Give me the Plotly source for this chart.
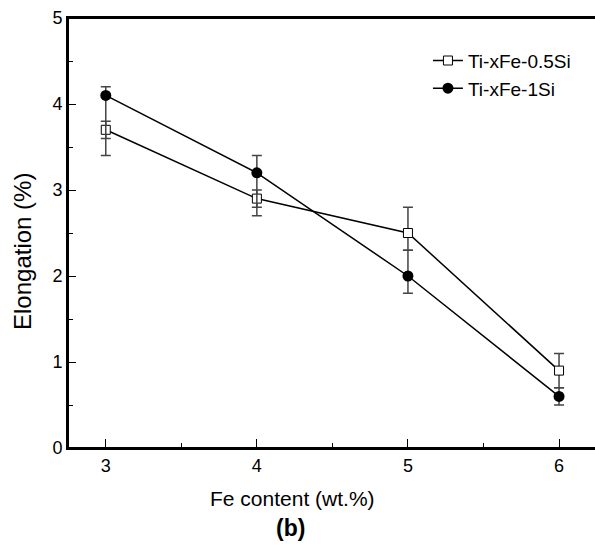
import plotly.graph_objects as go

fe = [3, 4, 5, 6]
si05 = [3.7, 2.9, 2.5, 0.9]
si05_up = [0.1, 0.1, 0.3, 0.2]
si05_dn = [0.3, 0.1, 0.2, 0.2]
si1 = [4.1, 3.2, 2.0, 0.6]
si1_up = [0.1, 0.2, 0.3, 0.1]
si1_dn = [0.5, 0.5, 0.2, 0.1]

x_ticks = [3, 4, 5, 6]
x_minor = [3.5, 4.5, 5.5]
y_ticks = [0, 1, 2, 3, 4, 5]
y_minor = [0.5, 1.5, 2.5, 3.5, 4.5]
x_range = [2.75, 6.238]
y_range = [0, 5]

FONT = "Liberation Sans"
W, H = 595, 548
L, R, T, B = 68, 0, 18, 100

fig = go.Figure()
fig.add_trace(go.Scatter(
    x=fe, y=si05, name="Ti-xFe-0.5Si", mode="lines+markers",
    line=dict(color="black", width=1.5),
    marker=dict(symbol="square", size=9, color="white", line=dict(color="black", width=1)),
    error_y=dict(type="data", symmetric=False, array=si05_up, arrayminus=si05_dn,
                 color="#444", thickness=1.5, width=5),
))
fig.add_trace(go.Scatter(
    x=fe, y=si1, name="Ti-xFe-1Si", mode="lines+markers",
    line=dict(color="black", width=1.5),
    marker=dict(symbol="circle", size=11, color="black"),
    error_y=dict(type="data", symmetric=False, array=si1_up, arrayminus=si1_dn,
                 color="#444", thickness=1.5, width=5),
))
fig.add_trace(go.Scatter(x=[x_range[0]], y=[y_range[0]], xaxis="x2", yaxis="y2",
                         mode="markers", marker=dict(opacity=0), showlegend=False,
                         hoverinfo="skip"))

fig.update_layout(
    width=W, height=H,
    margin=dict(l=L, r=R, t=T, b=B),
    plot_bgcolor="white",
    legend=dict(x=0.683, y=0.945, xanchor="left", yanchor="top",
                font=dict(size=19, family=FONT, color="black")),
    xaxis=dict(range=x_range, tickvals=x_ticks,
               ticks="inside", ticklen=9, tickcolor="black",
               showline=True, linecolor="black", linewidth=2, mirror=True,
               showgrid=False, tickfont=dict(size=18, family=FONT, color="black")),
    yaxis=dict(range=y_range, tickvals=y_ticks,
               ticks="inside", ticklen=8, tickcolor="black",
               showline=True, linecolor="black", linewidth=2,
               showgrid=False, tickfont=dict(size=18, family=FONT, color="black")),
    xaxis2=dict(range=x_range, overlaying="x", side="bottom",
                tickvals=x_minor, ticks="inside", ticklen=5,
                tickcolor="black", showticklabels=False,
                showgrid=False),
    yaxis2=dict(range=y_range, overlaying="y", side="left",
                tickvals=y_minor, ticks="inside", ticklen=5,
                tickcolor="black", showticklabels=False,
                showgrid=False),
)

# frame lines (top, left, bottom) in paper coordinates
for x0, y0, x1, y1 in [(0, 1, 1, 1), (0, 0, 0, 1), (0, 0, 1, 0)]:
    fig.add_shape(type="line", xref="paper", yref="paper", x0=x0, y0=y0, x1=x1, y1=y1,
                  line=dict(color="black", width=2), layer="above")

pw, ph = W - L - R, H - T - B


def px(xp, yp):
    return (xp - L) / pw, (H - B - yp) / ph


anns = [("Fe content (wt.%)", 292, 498, 21, 0),
        ("<b>(b)</b>", 290, 528, 23, 0),
        ("Elongation (%)", 22, 252, 24, -90)]
for text, xp, yp, size, ang in anns:
    ax, ay = px(xp, yp)
    fig.add_annotation(text=text, x=ax, y=ay, xref="paper", yref="paper",
                       xanchor="center", yanchor="middle", showarrow=False,
                       textangle=ang, font=dict(size=size, family=FONT, color="black"))

fig.write_html("out.html")
